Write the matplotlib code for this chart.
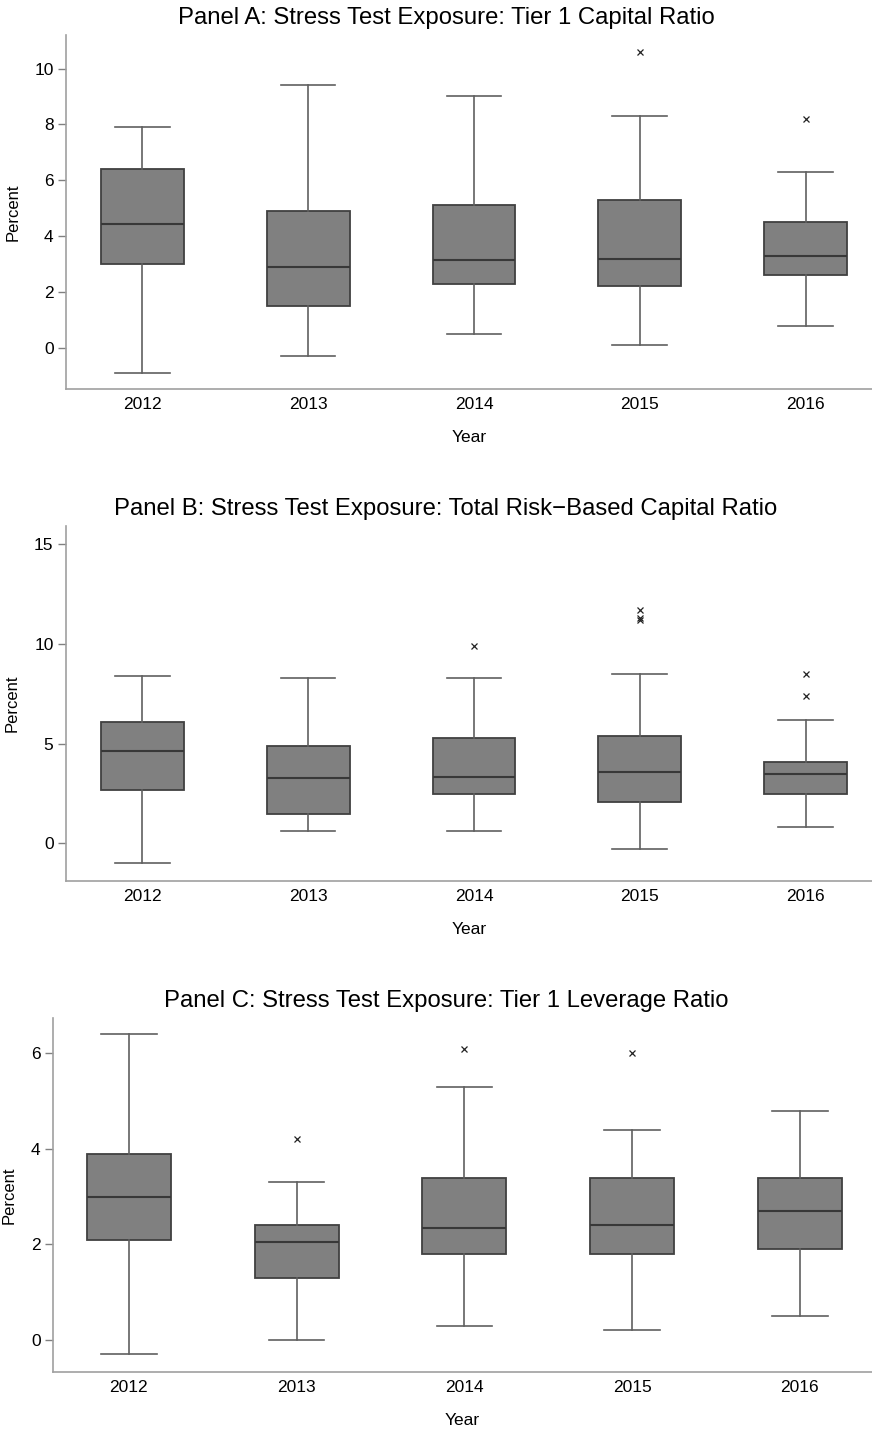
import matplotlib
matplotlib.use('Agg')
import matplotlib.pyplot as plt

plt.rcParams['font.family'] = ['Liberation Sans', 'DejaVu Sans']

years = ['2012', '2013', '2014', '2015', '2016']

# Panel A: Tier 1 capital ratio
a_lo = [-0.9, -0.3, 0.5, 0.1, 0.8]
a_q1 = [3.0, 1.5, 2.3, 2.2, 2.6]
a_med = [4.45, 2.9, 3.15, 3.2, 3.3]
a_q3 = [6.4, 4.9, 5.1, 5.3, 4.5]
a_hi = [7.9, 9.4, 9.0, 8.3, 6.3]
a_out = [[], [], [], [10.6], [8.2]]

# Panel B: total risk-based capital ratio
b_lo = [-1.0, 0.6, 0.6, -0.3, 0.8]
b_q1 = [2.7, 1.5, 2.5, 2.1, 2.5]
b_med = [4.65, 3.3, 3.35, 3.6, 3.5]
b_q3 = [6.1, 4.9, 5.3, 5.4, 4.1]
b_hi = [8.4, 8.3, 8.3, 8.5, 6.2]
b_out = [[], [], [9.9], [11.7, 11.3, 11.2], [8.5, 7.4]]

# Panel C: tier 1 leverage ratio
c_lo = [-0.3, 0.0, 0.3, 0.2, 0.5]
c_q1 = [2.1, 1.3, 1.8, 1.8, 1.9]
c_med = [3.0, 2.05, 2.35, 2.4, 2.7]
c_q3 = [3.9, 2.4, 3.4, 3.4, 3.4]
c_hi = [6.4, 3.3, 5.3, 4.4, 4.8]
c_out = [[], [4.2], [6.1], [6.0], []]

W, H = 872, 1430
fig = plt.figure(figsize=(W / 100, H / 100), dpi=100)

# pixel boxes of each panel: left, top, bottom
panels = [
    ('Panel A: Stress Test Exposure: Tier 1 Capital Ratio',
     (a_lo, a_q1, a_med, a_q3, a_hi, a_out), (66, 35, 389), (-1.47, 11.2), [0, 2, 4, 6, 8, 10], (0.54, 5.4)),
    ('Panel B: Stress Test Exposure: Total Risk\u2212Based Capital Ratio',
     (b_lo, b_q1, b_med, b_q3, b_hi, b_out), (66, 526, 881), (-1.88, 15.9), [0, 5, 10, 15], (0.54, 5.4)),
    ('Panel C: Stress Test Exposure: Tier 1 Leverage Ratio',
     (c_lo, c_q1, c_med, c_q3, c_hi, c_out), (53, 1018, 1372), (-0.67, 6.74), [0, 2, 4, 6], (0.548, 5.43)),
]

for title, (lo, q1, med, q3, hi, out), (left, top, bot), ylim, yticks, xlim in panels:
    ax = fig.add_axes([left / W, (H - bot) / H, (W - left) / W, (bot - top) / H])
    stats = []
    for i in range(len(years)):
        stats.append({'whislo': lo[i], 'q1': q1[i], 'med': med[i], 'q3': q3[i],
                      'whishi': hi[i], 'fliers': out[i], 'label': years[i]})
    ax.bxp(stats, positions=range(1, 6), widths=0.5, patch_artist=True,
           boxprops=dict(facecolor='#808080', edgecolor='#404040', linewidth=1.3),
           medianprops=dict(color='#383838', linewidth=1.5),
           whiskerprops=dict(color='#606060', linewidth=1.2),
           capprops=dict(color='#606060', linewidth=1.2),
           capwidths=0.33,
           flierprops=dict(marker='x', markersize=4, markeredgecolor='#222222',
                           markeredgewidth=0.9, linestyle='none'))
    ax.set_ylim(*ylim)
    ax.set_xlim(*xlim)
    ax.set_yticks(yticks)
    for s in ['top', 'right']:
        ax.spines[s].set_visible(False)
    for s in ['left', 'bottom']:
        ax.spines[s].set_color('#a0a0a0')
        ax.spines[s].set_linewidth(1.2)
    ax.tick_params(axis='y', length=6, width=1, color='#808080', labelsize=12.5, pad=3)
    ax.tick_params(axis='x', length=0, labelsize=12.5, pad=6)
    ax.set_ylabel('Percent', fontsize=12, labelpad=10)
    ax.set_xlabel('Year', fontsize=12.5, labelpad=13)
    fig.text(446 / W, 1 - (top - 17) / H, title, ha='center', va='center', fontsize=17.2)

fig.savefig('out.png', dpi=100)
